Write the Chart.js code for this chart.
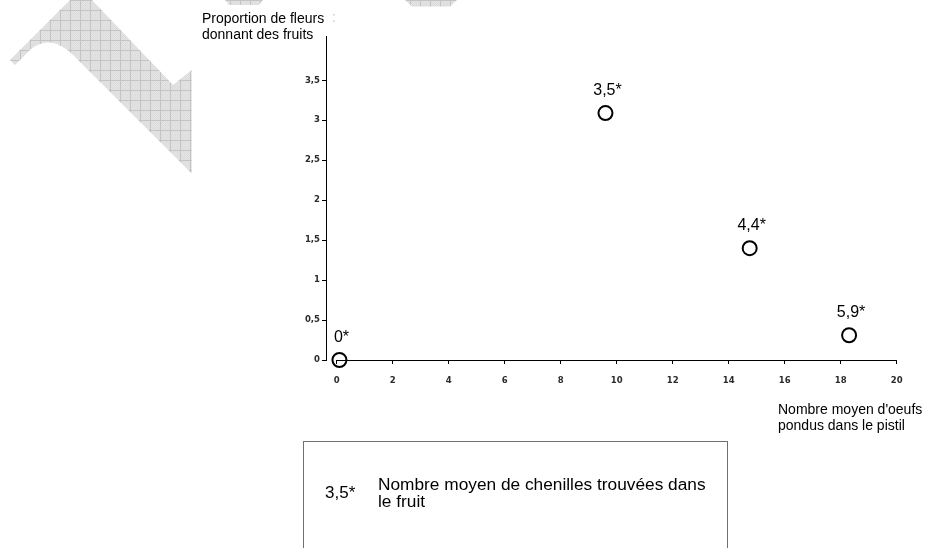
<!DOCTYPE html>
<html lang="fr">
<head>
<meta charset="utf-8">
<title>Proportion de fleurs donnant des fruits</title>
<script src="https://cdn.jsdelivr.net/npm/chart.js@4/dist/chart.umd.min.js"></script>
<style>
  html, body { margin: 0; padding: 0; background: #fff; }
  #wrap { position: relative; width: 925px; height: 548px; overflow: hidden; font-family: "Liberation Sans", Arial, sans-serif; color: #000; }
  #chart { position: absolute; left: 0; top: 0; }
  .title { position: absolute; font-size: 14px; line-height: 16.4px; white-space: nowrap; }
  #ytitle { left: 202px; top: 10px; }
  #xtitle { left: 778px; top: 400.5px; }
  #dots { position: absolute; left: 332px; top: 9px; font-size: 14px; color: #a9d6ef; }
  #key { position: absolute; left: 303px; top: 441px; width: 425px; height: 130px; border: 1.5px solid #707070; box-sizing: border-box; }
  #keySymbol { position: absolute; left: 21px; top: 42px; font-size: 17px; line-height: 17.3px; white-space: nowrap; }
  #keyText { position: absolute; left: 74px; top: 34px; font-size: 17.3px; line-height: 17.3px; white-space: nowrap; }
</style>
</head>
<body>
<div id="wrap">
  <canvas id="chart" width="925" height="548"></canvas>
  <div class="title" id="ytitle">Proportion de fleurs<br>donnant des fruits</div>
  <div id="dots">:</div>
  <div class="title" id="xtitle">Nombre moyen d'oeufs<br>pondus dans le pistil</div>
  <div id="key">
    <div id="keySymbol">3,5*</div>
    <div id="keyText">Nombre moyen de chenilles trouvées dans<br>le fruit</div>
  </div>
</div>
<script>
// Mean number of eggs laid in the pistil (x) and share of flowers setting fruit (y)
const eggsPerPistil = [0.1, 9.6, 14.75, 18.3];
const fruitingProportion = [0, 3.09, 1.4, 0.31];
// Mean number of caterpillars found in the fruit, printed above each point
const caterpillarsPerFruit = [0, 3.5, 4.4, 5.9];
// Axis tick values
const xTickValues = [0, 2, 4, 6, 8, 10, 12, 14, 16, 18, 20];
const yTickValues = [0, 0.5, 1, 1.5, 2, 2.5, 3, 3.5];

const frNumber = v => String(v).replace('.', ',');

// Hatched grey ribbon painted behind the plot
function hatchPattern(ctx) {
  const c = document.createElement('canvas');
  c.width = 10; c.height = 10;
  const p = c.getContext('2d');
  p.fillStyle = '#e4e4e4';
  p.fillRect(0, 0, 10, 10);
  p.fillStyle = '#dcdcdc';
  for (let i = 0; i < 10; i++) for (let j = 0; j < 10; j++) if ((i + j) % 2 === 0) p.fillRect(i, j, 1, 1);
  p.fillStyle = '#c4c4c4';
  p.fillRect(0, 0, 10, 1);
  p.fillRect(0, 0, 1, 10);
  return ctx.createPattern(c, 'repeat');
}

const ribbonPlugin = {
  id: 'ribbon',
  beforeDraw(chart) {
    const ctx = chart.ctx;
    ctx.save();
    ctx.fillStyle = hatchPattern(ctx);
    ctx.beginPath();
    ctx.moveTo(10, 60);
    ctx.lineTo(70, 0);
    ctx.lineTo(92, 0);
    ctx.lineTo(173, 85);
    ctx.lineTo(191.7, 70);
    ctx.lineTo(191.7, 173.5);
    ctx.lineTo(78, 60);
    ctx.quadraticCurveTo(52, 31, 30, 50);
    ctx.lineTo(15, 65);
    ctx.closePath();
    ctx.fill();
    ctx.beginPath();
    ctx.moveTo(225, 0); ctx.lineTo(263, 0); ctx.lineTo(259, 5); ctx.lineTo(229, 5);
    ctx.closePath();
    ctx.fill();
    ctx.beginPath();
    ctx.moveTo(405, 0); ctx.lineTo(457, 0); ctx.lineTo(450, 6.5); ctx.lineTo(412, 6.5);
    ctx.closePath();
    ctx.fill();
    ctx.restore();
  }
};

// Horizontal axis line, drawn from 0 to 20 only
const xAxisLinePlugin = {
  id: 'xAxisLine',
  beforeDatasetsDraw(chart) {
    const { ctx, scales: { x, y } } = chart;
    const y0 = Math.round(y.getPixelForValue(0)) + 0.5;
    ctx.save();
    ctx.strokeStyle = '#000';
    ctx.lineWidth = 1;
    ctx.beginPath();
    ctx.moveTo(x.getPixelForValue(xTickValues[0]), y0);
    ctx.lineTo(x.getPixelForValue(xTickValues[xTickValues.length - 1]), y0);
    ctx.stroke();
    ctx.restore();
  }
};

// Caterpillar counts written above the points, followed by an asterisk
const pointLabelPlugin = {
  id: 'pointLabels',
  afterDatasetsDraw(chart) {
    const ctx = chart.ctx;
    const meta = chart.getDatasetMeta(0);
    ctx.save();
    ctx.fillStyle = '#000';
    ctx.textBaseline = 'alphabetic';
    ctx.textAlign = 'center';
    ctx.font = '16px "Liberation Sans", Arial, sans-serif';
    meta.data.forEach((pt, i) => {
      ctx.fillText(frNumber(caterpillarsPerFruit[i]) + '*', pt.x + 2, pt.y - 18);
    });
    ctx.restore();
  }
};

const tickFont = { family: '"DejaVu Sans", Verdana, sans-serif', size: 8.5, weight: 'bold' };

new Chart(document.getElementById('chart'), {
  type: 'scatter',
  data: {
    datasets: [{
      data: eggsPerPistil.map((v, i) => ({ x: v, y: fruitingProportion[i] })),
      pointStyle: 'circle',
      pointRadius: 7,
      pointHoverRadius: 7,
      pointBorderWidth: 2,
      borderColor: '#000',
      backgroundColor: 'rgba(0,0,0,0)',
      clip: false
    }]
  },
  options: {
    responsive: false,
    animation: false,
    devicePixelRatio: 1,
    layout: { padding: { left: 0, top: 36, right: 28.3, bottom: 0 } },
    plugins: { legend: { display: false }, tooltip: { enabled: false } },
    scales: {
      x: {
        type: 'linear',
        min: -0.38,
        max: 20,
        afterBuildTicks: s => { s.ticks = xTickValues.map(v => ({ value: v })); },
        afterFit: s => { s.height = 188; },
        ticks: { font: tickFont, color: '#2b2b2b', padding: 12, maxRotation: 0, autoSkip: false, callback: v => frNumber(v) },
        grid: { drawOnChartArea: false, drawTicks: true, tickLength: 4, color: '#000' },
        border: { display: false }
      },
      y: {
        type: 'linear',
        min: 0,
        max: 4.055,
        afterBuildTicks: s => { s.ticks = yTickValues.map(v => ({ value: v })); },
        afterFit: s => { s.width = 326; },
        ticks: { font: tickFont, color: '#2b2b2b', padding: 2, autoSkip: false, callback: v => frNumber(v) },
        grid: { drawOnChartArea: false, drawTicks: true, tickLength: 4, color: '#000' },
        border: { display: true, color: '#000', width: 1 }
      }
    }
  },
  plugins: [ribbonPlugin, xAxisLinePlugin, pointLabelPlugin]
});
</script>
</body>
</html>
